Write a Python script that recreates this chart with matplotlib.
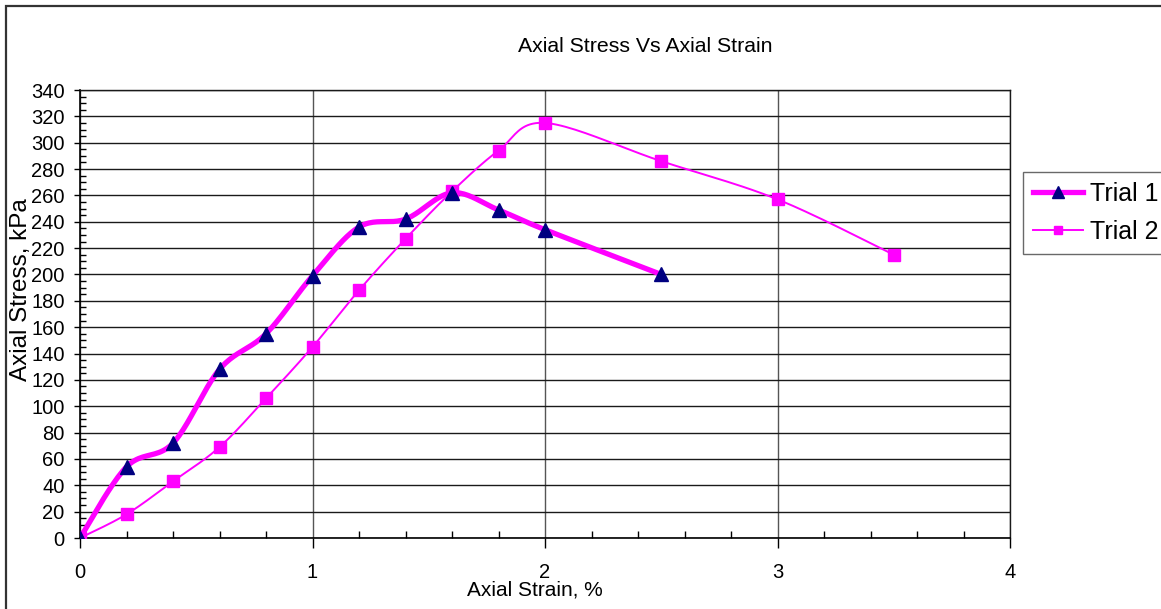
import numpy as np
import matplotlib
matplotlib.use("Agg")
import matplotlib.pyplot as plt
from matplotlib.patches import Rectangle
from matplotlib.ticker import MultipleLocator

plt.rcParams["font.family"] = ["Liberation Sans", "DejaVu Sans"]

# strain (%) and stress (kPa) for the two triaxial trials
strain_1 = [0.0, 0.2, 0.4, 0.6, 0.8, 1.0, 1.2, 1.4, 1.6, 1.8, 2.0, 2.5]
stress_1 = [0, 54, 72, 128, 155, 199, 236, 242, 262, 249, 234, 200]

strain_2 = [0.0, 0.2, 0.4, 0.6, 0.8, 1.0, 1.2, 1.4, 1.6, 1.8, 2.0, 2.5, 3.0, 3.5]
stress_2 = [0, 18, 43, 69, 106, 145, 188, 227, 263, 294, 315, 286, 257, 215]

X_MAX, Y_MAX = 4, 340
MAGENTA = "#FF00FF"
NAVY = "#000080"

W, H = 1161, 609
AX_L, AX_R, AX_T, AX_B = 80, 1010, 90, 538


def smooth(xs, ys, n=24):
    """Catmull-Rom style smoothing done in screen proportions, like spreadsheet 'smoothed line'."""
    sx = (AX_R - AX_L) / X_MAX
    sy = (AX_B - AX_T) / Y_MAX
    p = np.column_stack([np.asarray(xs, float) * sx, np.asarray(ys, float) * sy])
    out = [p[0]]
    for i in range(len(p) - 1):
        p0 = p[i - 1] if i > 0 else p[i]
        p1, p2 = p[i], p[i + 1]
        p3 = p[i + 2] if i + 2 < len(p) else p[i + 1]
        c1 = p1 + (p2 - p0) / 6
        c2 = p2 - (p3 - p1) / 6
        t = np.linspace(0, 1, n)[1:, None]
        seg = ((1 - t) ** 3) * p1 + 3 * ((1 - t) ** 2) * t * c1 + 3 * (1 - t) * t ** 2 * c2 + t ** 3 * p2
        out.extend(seg)
    out = np.array(out)
    return out[:, 0] / sx, out[:, 1] / sy


fig = plt.figure(figsize=(W / 100, H / 100), dpi=100)
ax = fig.add_axes([AX_L / W, 1 - AX_B / H, (AX_R - AX_L) / W, (AX_B - AX_T) / H])

# outer chart-area frame (only the top/left edges fall inside the canvas)
fig.patches.append(Rectangle((5.5 / W, -0.1), 1.2, 1 - 5.5 / H + 0.1, transform=fig.transFigure,
                             fill=False, edgecolor="#333333", linewidth=1.6))

sx1, sy1 = smooth(strain_1, stress_1)
sx2, sy2 = smooth(strain_2, stress_2)

ax.plot(sx1, sy1, color=MAGENTA, lw=3.8, solid_capstyle="round", zorder=3)
ax.plot(strain_1, stress_1, ls="none", marker="^", ms=10, color=NAVY, zorder=5)
ax.plot(sx2, sy2, color=MAGENTA, lw=1.4, zorder=3)
ax.plot(strain_2, stress_2, ls="none", marker="s", ms=8.5, color=MAGENTA, zorder=4)

# legend proxies combine line + marker
h1, = ax.plot([], [], color=MAGENTA, lw=3.8, marker="^", ms=9, mfc=NAVY, mec=NAVY)
h2, = ax.plot([], [], color=MAGENTA, lw=1.4, marker="s", ms=6, mfc=MAGENTA, mec=MAGENTA)
leg = fig.legend([h1, h2], ["Trial 1", "Trial 2"], loc="upper left",
                 bbox_to_anchor=(1023 / W, 1 - 172 / H), fontsize=18, frameon=True,
                 fancybox=False, edgecolor="#444444", handlelength=2.0, handletextpad=0.3,
                 borderpad=0.4, labelspacing=0.55, borderaxespad=0)
leg.get_frame().set_linewidth(1.0)

ax.set_xlim(0, X_MAX)
ax.set_ylim(0, Y_MAX)
ax.xaxis.set_major_locator(MultipleLocator(1))
ax.xaxis.set_minor_locator(MultipleLocator(0.2))
ax.yaxis.set_major_locator(MultipleLocator(20))
ax.yaxis.set_minor_locator(MultipleLocator(5))

ax.grid(True, which="major", axis="y", color="#1a1a1a", lw=1.0)
ax.grid(True, which="major", axis="x", color="#555555", lw=1.0)
ax.set_axisbelow(True)

ax.tick_params(axis="x", which="major", direction="out", length=7, width=1, pad=11, labelsize=14.5)
ax.tick_params(axis="x", which="minor", direction="in", length=5, width=1)
ax.tick_params(axis="y", which="major", direction="out", length=4, width=1, pad=7, labelsize=14.5)
ax.tick_params(axis="y", which="minor", direction="in", length=4, width=1)

for side in ("left", "bottom"):
    ax.spines[side].set_color("black")
    ax.spines[side].set_linewidth(1.2)
for side in ("top", "right"):
    ax.spines[side].set_color("#1a1a1a")
    ax.spines[side].set_linewidth(1.0)

fig.text(645 / W, 1 - 47 / H, "Axial Stress Vs Axial Strain", ha="center", va="center", fontsize=15.3)
fig.text(535 / W, 1 - 590 / H, "Axial Strain, %", ha="center", va="center", fontsize=15)
fig.text(21 / W, 1 - 290 / H, "Axial Stress, kPa", ha="center", va="center", rotation=90, fontsize=17.5)

fig.savefig("out.png", dpi=100)
